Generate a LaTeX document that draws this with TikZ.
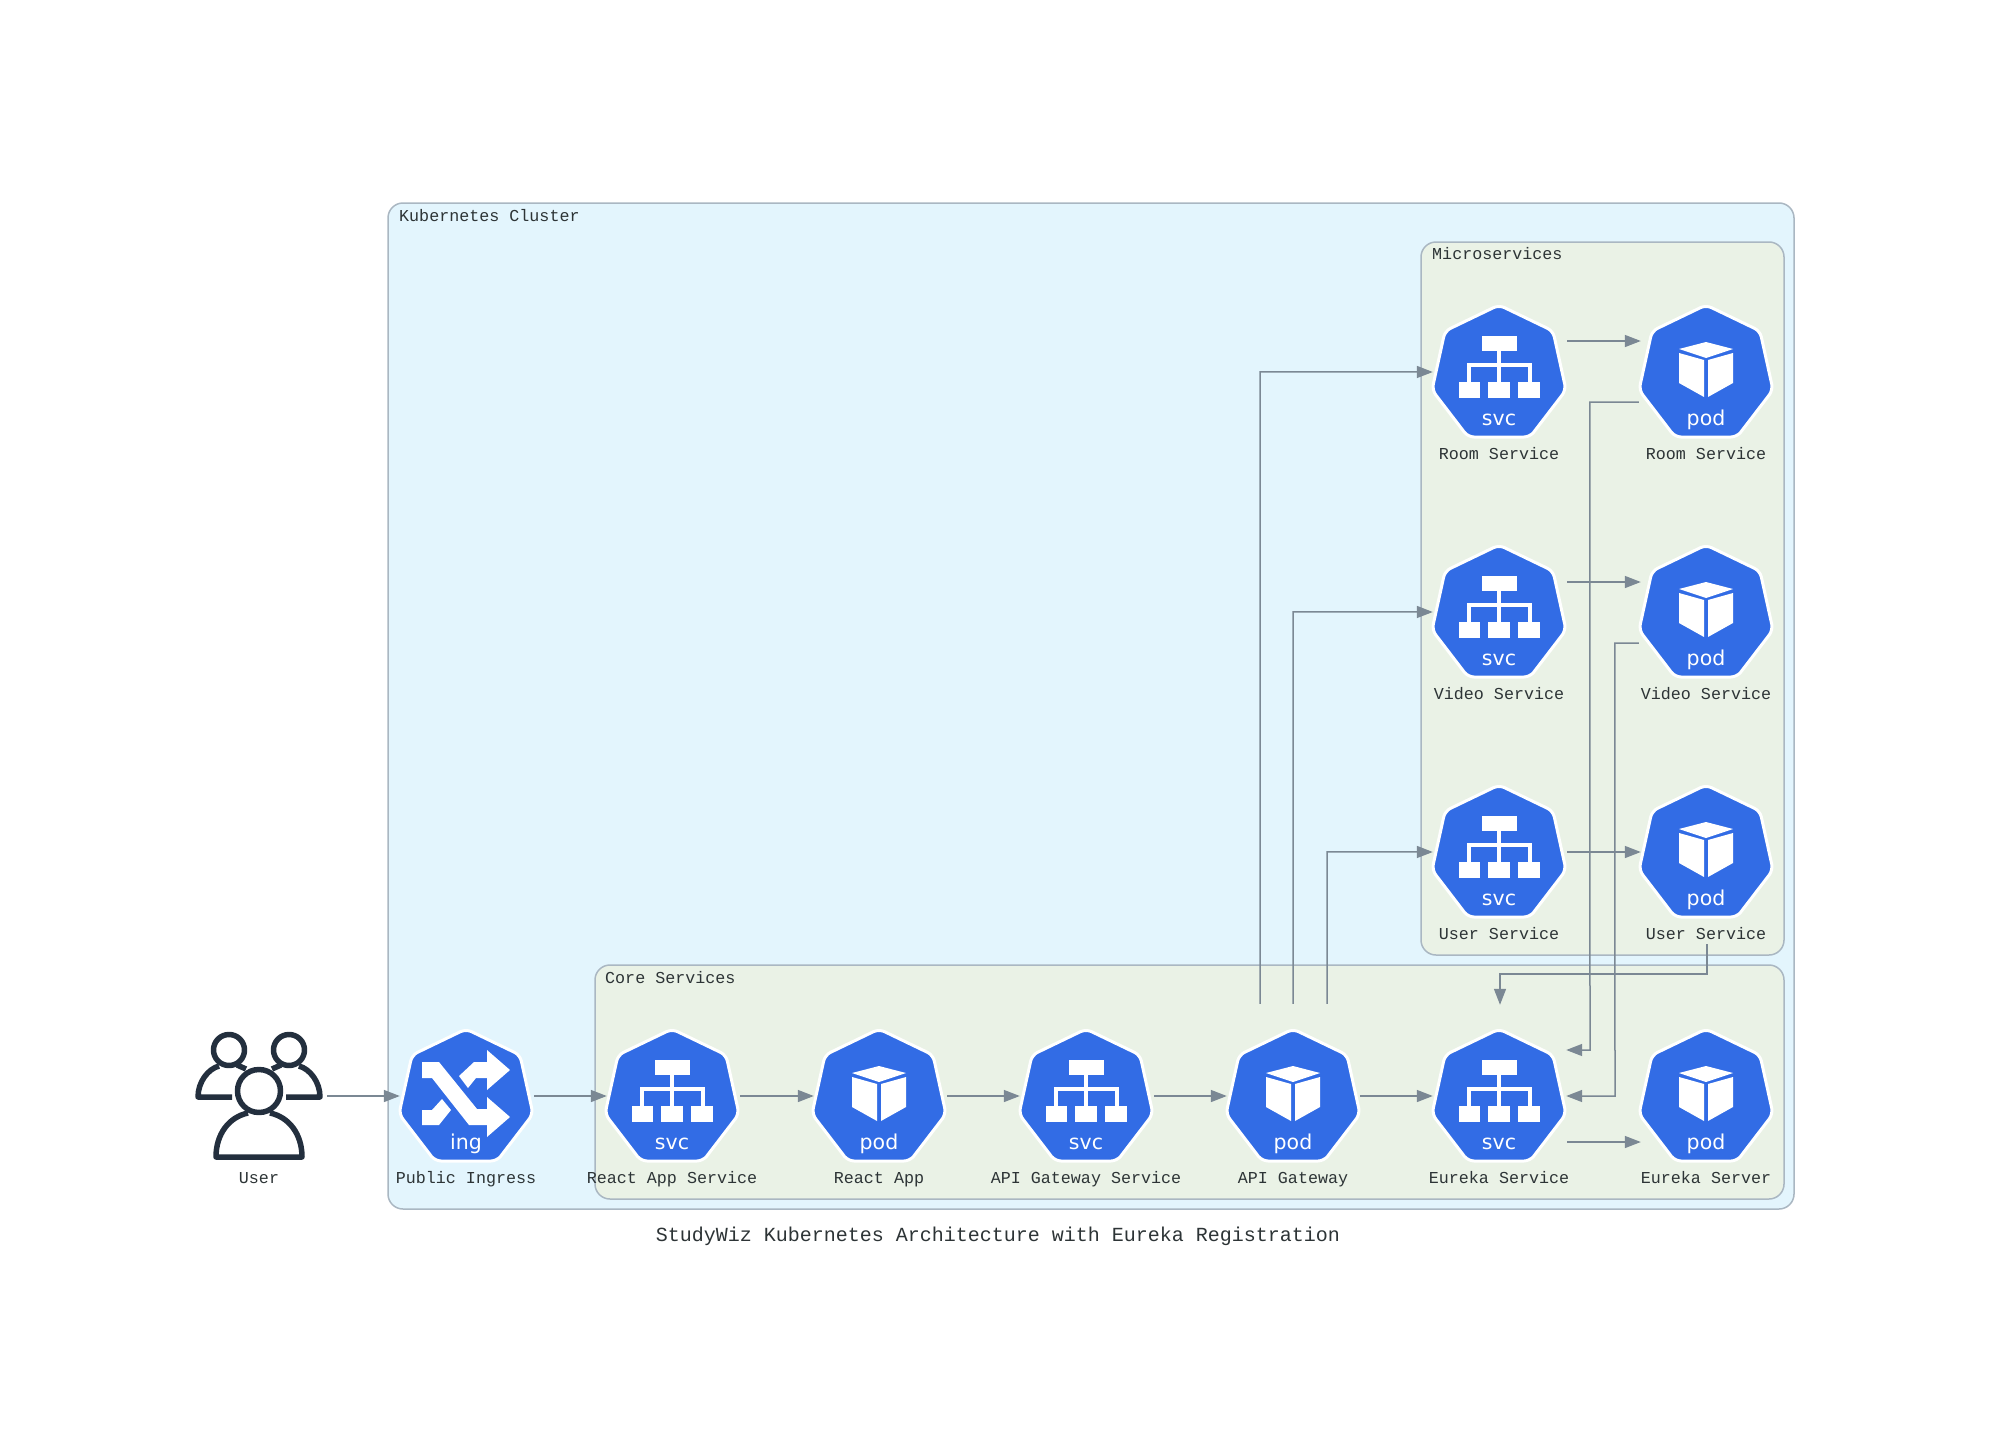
\documentclass[tikz,border=0pt]{standalone}
\usepackage{fontspec}
\usetikzlibrary{arrows.meta,calc}
\newfontfamily\lblfont{Liberation Mono}
\newfontfamily\iconfont{DejaVu Sans}
\definecolor{kblue}{HTML}{326CE5}
\definecolor{clusterfill}{HTML}{E3F5FD}
\definecolor{groupfill}{HTML}{EAF2E6}
\definecolor{groupline}{HTML}{AAB7C2}
\definecolor{conncol}{HTML}{7B8894}
\definecolor{txt}{HTML}{2D3436}
\definecolor{userink}{HTML}{232F3E}
\tikzset{
  clusterbox/.style={draw=groupline,line width=1.5pt,fill=clusterfill,rounded corners=15pt},
  groupbox/.style={draw=groupline,line width=1.5pt,fill=groupfill,rounded corners=15pt},
  iconbox/.style={inner sep=0pt,minimum width=134pt,minimum height=134pt},
  lbl/.style={anchor=base,inner sep=0pt,text=txt,font=\lblfont\fontsize{16.7}{20}\selectfont},
  grouplbl/.style={anchor=base west,inner sep=0pt,text=txt,font=\lblfont\fontsize{16.7}{20}\selectfont},
  titlelbl/.style={anchor=base,inner sep=0pt,text=txt,font=\lblfont\fontsize{20}{24}\selectfont},
  conn/.style={draw=conncol,line width=1.5pt,-{Triangle[length=16pt,width=12pt]}},
  icontxt/.style={anchor=base,inner sep=0pt,text=white,font=\iconfont\fontsize{20.5}{24}\selectfont},
  hepta/.pic={
    \path[fill=kblue,draw=white,line width=3pt,rounded corners=6pt]
      (0,-67)--(54,-41)--(67,18)--(31,65)--(-31,65)--(-67,18)--(-54,-41)--cycle;
  },
  svcicon/.pic={
    \pic {hepta};
    \fill[white] (-17,-36) rectangle (18,-21);
    \fill[white] (-40,10) rectangle (-19,26);
    \fill[white] (-11,10) rectangle (11,26);
    \fill[white] (19,10) rectangle (41,26);
    \draw[white,line width=4pt] (0,-21)--(0,10);
    \draw[white,line width=3.5pt] (-30,10)--(-30,-7)--(31,-7)--(31,10);
    \node[icontxt] at (0,53) {svc};
  },
  podicon/.pic={
    \pic {hepta};
    \fill[white] (0,-30)--(27,-23)--(0,-14)--(-27,-23)--cycle;
    \fill[white] (-27,-19)--(-2,-12)--(-2,25)--(-27,11)--cycle;
    \fill[white] (27,-19)--(2,-12)--(2,25)--(27,11)--cycle;
    \node[icontxt] at (0,53) {pod};
  },
  ingicon/.pic={
    \pic {hepta};
    \fill[white] (-44,-34)--(-27,-34)--(11,13)--(21,13)--(21,1)--(44,21)--(21,41)--(21,29)--(3,29)--(-34,-18)--(-44,-18)--cycle;
    \fill[white] (-7,-20)--(8,-34)--(21,-34)--(21,-46)--(44,-26)--(21,-6)--(21,-18)--(10,-18)--(2,-8)--cycle;
    \fill[white] (-44,14)--(-34,14)--(-24,3)--(-15,14)--(-27,29)--(-44,29)--cycle;
    \node[icontxt] at (0,53) {ing};
  },
  usericon/.pic={
    \begin{scope}[draw=userink,line width=5.5pt,line join=round,line cap=butt]
      \draw (-30,-46) circle[radius=15.5];
      \draw (30,-46) circle[radius=15.5];
      \draw (-27,1)--(-61,1) .. controls (-61,-14) and (-51,-27) .. (-40,-30);
      \draw (27,1)--(61,1) .. controls (61,-14) and (51,-27) .. (40,-30);
      \draw (-22,-31)--(-13,-27);
      \draw (22,-31)--(13,-27);
      \draw (0,-5) circle[radius=21.5];
      \draw (-11,17) .. controls (-30,21) and (-43,38) .. (-43,61) -- (43,61) .. controls (43,38) and (30,21) .. (11,17);
    \end{scope}
  },
}
\begin{document}
\begin{tikzpicture}[x=1pt,y=-1pt]
\useasboundingbox (0,0) rectangle (1997,1445);
\fill[white] (0,0) rectangle (1997,1445);
% clusters
\path[clusterbox] (388,203) rectangle (1794,1209);
\path[groupbox] (1421,242) rectangle (1784,955);
\path[groupbox] (595,965) rectangle (1784,1199);
\node[grouplbl] (clusterlbl) at (399,221) {Kubernetes Cluster};
\node[grouplbl] (microlbl) at (1432,259) {Microservices};
\node[grouplbl] (corelbl) at (605,983) {Core Services};
\node[titlelbl] (title) at (998,1241) {StudyWiz Kubernetes Architecture with Eureka Registration};
% icon boxes
\foreach \nm/\cx/\cy/\ic/\tx in {
  user/259/1096/usericon/User,
  ingress/466/1096/ingicon/Public Ingress,
  reactsvc/672/1096/svcicon/React App Service,
  reactpod/879/1096/podicon/React App,
  apisvc/1086/1096/svcicon/API Gateway Service,
  apipod/1293/1096/podicon/API Gateway,
  eurekasvc/1499/1096/svcicon/Eureka Service,
  eurekapod/1706/1096/podicon/Eureka Server,
  usersvc/1499/852/svcicon/User Service,
  userpod/1706/852/podicon/User Service,
  videosvc/1499/612/svcicon/Video Service,
  videopod/1706/612/podicon/Video Service,
  roomsvc/1499/372/svcicon/Room Service,
  roompod/1706/372/podicon/Room Service}{
  \node[iconbox] (\nm) at (\cx,\cy) {};
  \pic at (\nm.center) {\ic};
  \node[lbl] (\nm-lbl) at ($(\nm.center)+(0,87)$) {\tx};
}
% connectors along the bottom row
\draw[conn] ($(user.east)+(1,0)$) -- ($(ingress.west)+(1,0)$);
\draw[conn] ($(ingress.east)+(1,0)$) -- ($(reactsvc.west)+(2,0)$);
\draw[conn] ($(reactsvc.east)+(1,0)$) -- ($(reactpod.west)+(2,0)$);
\draw[conn] ($(reactpod.east)+(1,0)$) -- ($(apisvc.west)+(1,0)$);
\draw[conn] ($(apisvc.east)+(1,0)$) -- ($(apipod.west)+(1,0)$);
\draw[conn] ($(apipod.east)+(0,0)$) -- ($(eurekasvc.west)+(1,0)$);
\draw[conn] ($(eurekasvc.east)+(1,46)$) -- ($(eurekapod.west)+(2,46)$);
% service to pod
\draw[conn] ($(roomsvc.east)+(1,-31)$) -- ($(roompod.west)+(2,-31)$);
\draw[conn] ($(videosvc.east)+(1,-30)$) -- ($(videopod.west)+(2,-30)$);
\draw[conn] ($(usersvc.east)+(1,0)$) -- ($(userpod.west)+(2,0)$);
% gateway to services
\draw[conn] ($(apipod.north)+(-33,-25)$) -- ++(0,-632) -- ($(roomsvc.west)+(1,0)$);
\draw[conn] ($(apipod.north)+(0,-25)$) -- ++(0,-392) -- ($(videosvc.west)+(1,0)$);
\draw[conn] ($(apipod.north)+(34,-25)$) -- ++(0,-152) -- ($(usersvc.west)+(1,0)$);
% pods to eureka
\draw[conn] ($(roompod.west)+(0,30)$) -- ++(-49,0) -- (1590,1050) -- ($(eurekasvc.east)+(0,-46)$);
\draw[conn] ($(videopod.west)+(0,31)$) -- ++(-24,0) -- (1615,1096) -- ($(eurekasvc.east)+(0,0)$);
\draw[conn] ($(userpod-lbl.base)+(1,5)$) -- ++(0,30) -- ++(-207,0) -- ($(eurekasvc.north)+(1,-24)$);
\end{tikzpicture}
\end{document}
